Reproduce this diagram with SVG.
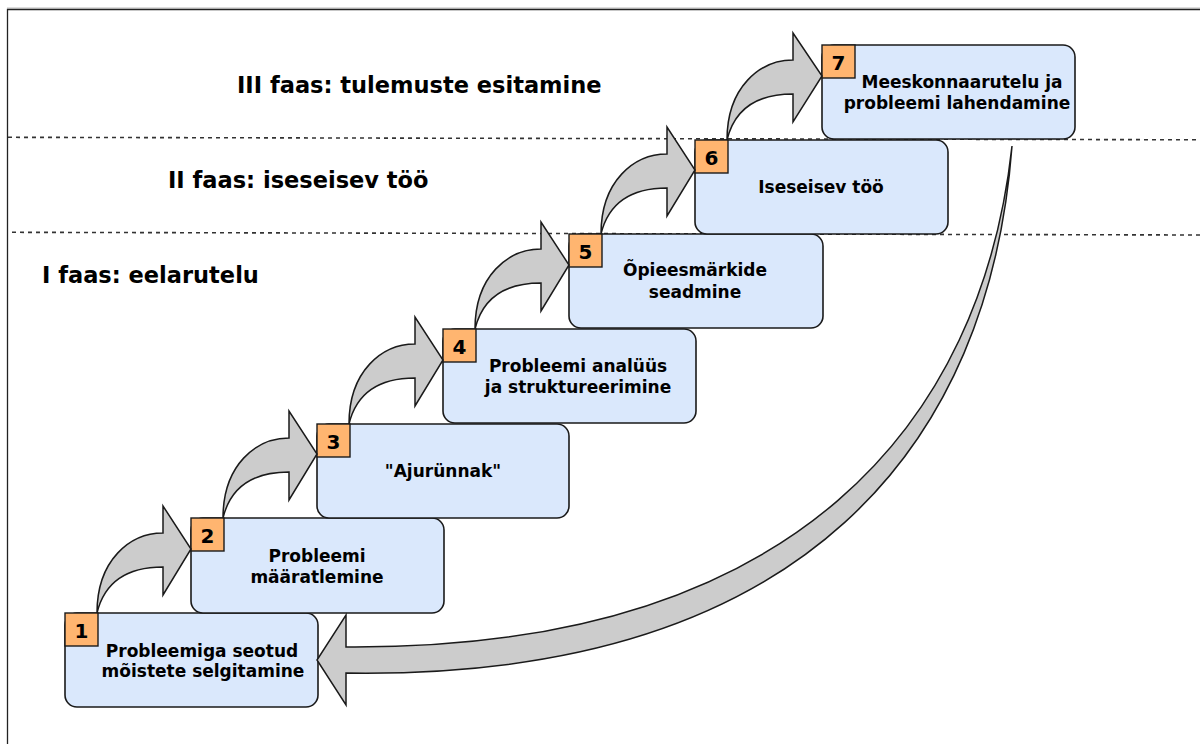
<svg xmlns="http://www.w3.org/2000/svg" width="1200" height="744" viewBox="0 0 1200 744">
<style>
.frame{fill:none;stroke:#222;stroke-width:1.3}
.sep{fill:none;stroke:#333;stroke-width:1.6;stroke-dasharray:4 4}
.box{fill:#DAE8FC;stroke:#1a1a1a;stroke-width:1.6}
.badge{fill:#FFB570;stroke:#1a1a1a;stroke-width:1.4}
.num{font-family:"DejaVu Sans",Verdana,sans-serif;font-weight:bold;font-size:20px;fill:#000;text-anchor:middle}
.lbl{font-family:"DejaVu Sans",Verdana,sans-serif;font-weight:bold;font-size:17px;fill:#000;text-anchor:middle}
.phase{font-family:"DejaVu Sans",Verdana,sans-serif;font-weight:bold;font-size:22.5px;fill:#000}
.arr{fill:#CCCCCC;stroke:#1a1a1a;stroke-width:1.5;stroke-linejoin:miter}
</style>
<rect width="1200" height="744" fill="#fff"/>
<line x1="7" y1="8" x2="1200" y2="8" stroke="#bbb" stroke-width="1"/>
<path class="frame" d="M7.5,744 V9.5 H1200"/>
<g id="phases">
<line class="sep" x1="8" y1="137.3" x2="1200" y2="139.8"/>
<line class="sep" x1="12" y1="232.3" x2="1200" y2="235"/>
<text class="phase" x="237" y="93">III faas: tulemuste esitamine</text>
<text class="phase" x="168" y="188">II faas: iseseisev töö</text>
<text class="phase" x="42" y="283">I faas: eelarutelu</text>
</g>
<g id="n1"><rect class="box" x="65" y="613" width="253" height="94" rx="12"/><rect class="badge" x="65" y="613" width="33" height="33"/><text class="num" x="81.5" y="638">1</text><text class="lbl" x="202" y="657">Probleemiga seotud</text><text class="lbl" x="203" y="677">mõistete selgitamine</text></g>
<g id="n2"><rect class="box" x="191" y="518" width="253" height="95" rx="12"/><rect class="badge" x="191" y="518" width="33" height="33"/><text class="num" x="207.5" y="543">2</text><text class="lbl" x="317" y="562">Probleemi</text><text class="lbl" x="317" y="583">määratlemine</text></g>
<g id="n3"><rect class="box" x="317" y="424" width="252" height="94" rx="12"/><rect class="badge" x="317" y="424" width="33" height="33"/><text class="num" x="333.5" y="449">3</text><text class="lbl" x="443" y="477">"Ajurünnak"</text></g>
<g id="n4"><rect class="box" x="443" y="329" width="253" height="94" rx="12"/><rect class="badge" x="443" y="329" width="33" height="33"/><text class="num" x="459.5" y="354">4</text><text class="lbl" x="578" y="372">Probleemi analüüs</text><text class="lbl" x="578" y="393">ja struktureerimine</text></g>
<g id="n5"><rect class="box" x="569" y="234" width="254" height="94" rx="12"/><rect class="badge" x="569" y="234" width="33" height="33"/><text class="num" x="585.5" y="259">5</text><text class="lbl" x="695" y="276">Õpieesmärkide</text><text class="lbl" x="695" y="298">seadmine</text></g>
<g id="n6"><rect class="box" x="695" y="140" width="253" height="94" rx="12"/><rect class="badge" x="695" y="140" width="33" height="33"/><text class="num" x="711.5" y="165">6</text><text class="lbl" x="821" y="193">Iseseisev töö</text></g>
<g id="n7"><rect class="box" x="822" y="45" width="253" height="94" rx="12"/><rect class="badge" x="822" y="45" width="33" height="33"/><text class="num" x="838.5" y="70">7</text><text class="lbl" x="962" y="88">Meeskonnaarutelu ja</text><text class="lbl" x="957" y="109">probleemi lahendamine</text></g>
<g id="connectors">
<path class="arr" d="M97,613 C97,560 130,533 163,533 L163,506 L191,549 L163,595 L163,567 C130,567 105,580 97,613 Z"/>
<path class="arr" d="M223,518 C223,465 256,438 289,438 L289,411 L317,454 L289,500 L289,472 C256,472 231,485 223,518 Z"/>
<path class="arr" d="M349,424 C349,371 382,344 415,344 L415,317 L443,360 L415,406 L415,378 C382,378 357,391 349,424 Z"/>
<path class="arr" d="M475,329 C475,276 508,249 541,249 L541,222 L569,265 L541,311 L541,283 C508,283 483,296 475,329 Z"/>
<path class="arr" d="M601,234 C601,181 634,154 667,154 L667,127 L695,170 L667,216 L667,188 C634,188 609,201 601,234 Z"/>
<path class="arr" d="M727,140 C727,87 760,60 793,60 L793,33 L822,76 L793,122 L793,94 C760,94 735,107 727,140 Z"/>
<path class="arr" d="M1012,146 C990,440 810,680 346,673 L346,705 L317,660 L346,615 L346,647 C800,650 982,420 1012,146 Z"/>
</g>
</svg>
